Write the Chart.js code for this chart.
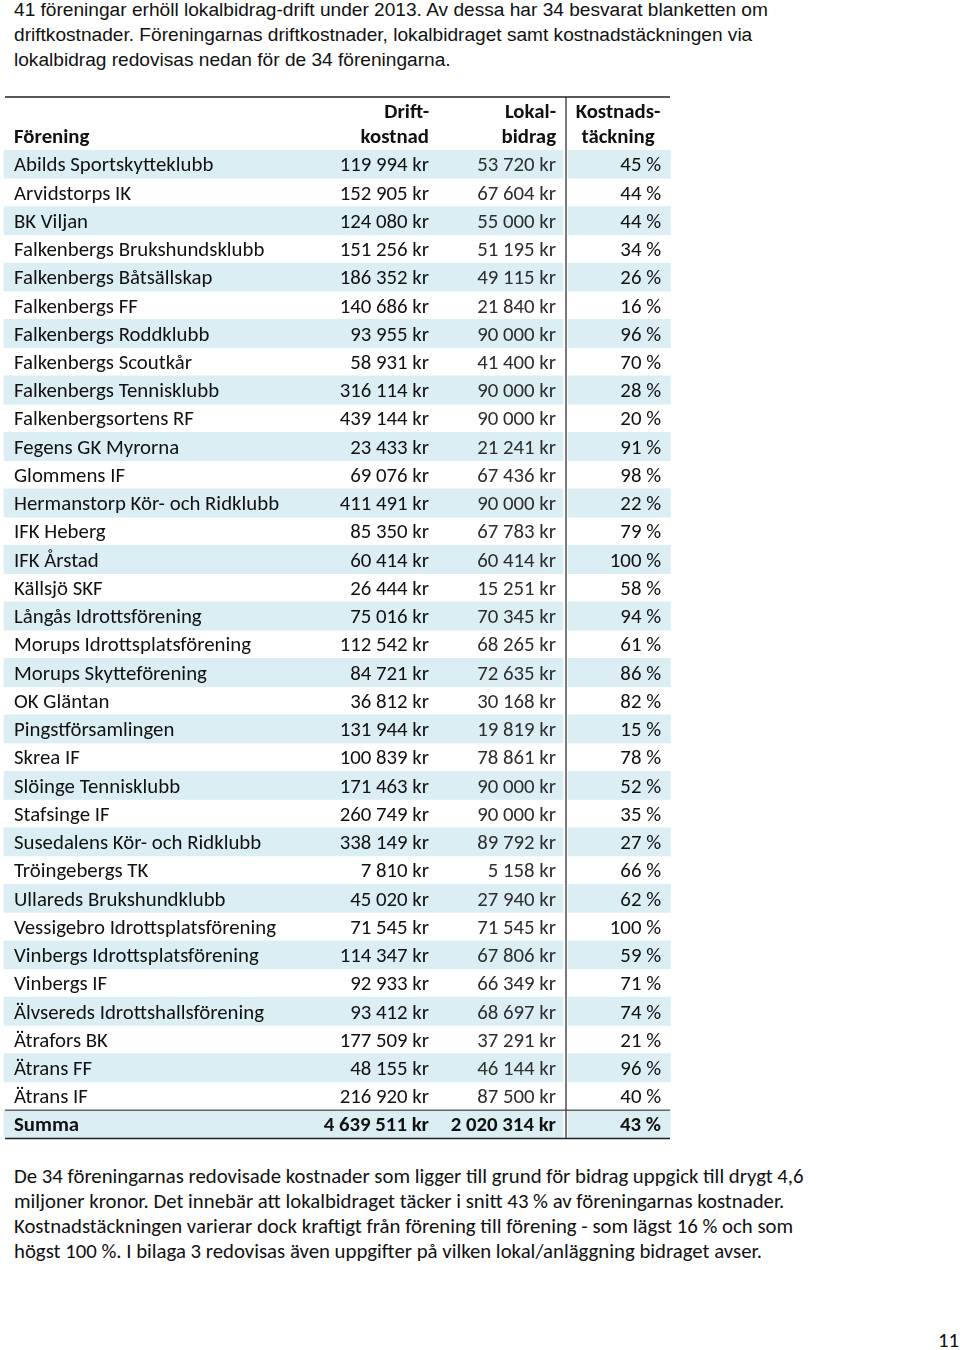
<!DOCTYPE html>
<html>
<head>
<meta charset="utf-8">
<script src="https://cdn.jsdelivr.net/npm/chart.js@4/dist/chart.umd.min.js"></script>
<style>
  html, body { margin: 0; padding: 0; background: #ffffff; }
  body { width: 960px; height: 1350px; position: relative; overflow: hidden; }
  .para { position: absolute; left: 14px; line-height: 25px; color: #111; white-space: nowrap; }
  #top { top: -3px; font-family: "Liberation Sans", Arial, sans-serif; font-size: 18.5px; }
  #bottom { top: 1164px; font-family: Carlito, Lato, sans-serif; font-size: 19px; }
  #pagenum { position: absolute; top: 1328px; right: 1px; line-height: 25px; font-family: Carlito, Lato, sans-serif; font-size: 19px; color: #111; }
  #wrap { position: absolute; left: 0; top: 90px; width: 680px; height: 1060px; }
</style>
</head>
<body>
<div class="para" id="top">
  <div>41 föreningar erhöll lokalbidrag-drift under 2013. Av dessa har 34 besvarat blanketten om</div>
  <div>driftkostnader. Föreningarnas driftkostnader, lokalbidraget samt kostnadstäckningen via</div>
  <div>lokalbidrag redovisas nedan för de 34 föreningarna.</div>
</div>
<div id="wrap"><canvas id="c" width="680" height="1060"></canvas></div>
<div class="para" id="bottom">
  <div>De 34 föreningarnas redovisade kostnader som ligger till grund för bidrag uppgick till drygt 4,6</div>
  <div>miljoner kronor. Det innebär att lokalbidraget täcker i snitt 43 % av föreningarnas kostnader.</div>
  <div>Kostnadstäckningen varierar dock kraftigt från förening till förening - som lägst 16 % och som</div>
  <div>högst 100 %. I bilaga 3 redovisas även uppgifter på vilken lokal/anläggning bidraget avser.</div>
</div>
<div id="pagenum">11</div>
<script>
// ---- Data ----
const foreningar = [
  "Abilds Sportskytteklubb", "Arvidstorps IK", "BK Viljan", "Falkenbergs Brukshundsklubb",
  "Falkenbergs Båtsällskap", "Falkenbergs FF", "Falkenbergs Roddklubb", "Falkenbergs Scoutkår",
  "Falkenbergs Tennisklubb", "Falkenbergsortens RF", "Fegens GK Myrorna", "Glommens IF",
  "Hermanstorp Kör- och Ridklubb", "IFK Heberg", "IFK Årstad", "Källsjö SKF",
  "Långås Idrottsförening", "Morups Idrottsplatsförening", "Morups Skytteförening", "OK Gläntan",
  "Pingstförsamlingen", "Skrea IF", "Slöinge Tennisklubb", "Stafsinge IF",
  "Susedalens Kör- och Ridklubb", "Tröingebergs TK", "Ullareds Brukshundklubb", "Vessigebro Idrottsplatsförening",
  "Vinbergs Idrottsplatsförening", "Vinbergs IF", "Älvsereds Idrottshallsförening", "Ätrafors BK",
  "Ätrans FF", "Ätrans IF"
];
const driftkostnad = [
  119994, 152905, 124080, 151256, 186352, 140686, 93955, 58931,
  316114, 439144, 23433, 69076, 411491, 85350, 60414, 26444,
  75016, 112542, 84721, 36812, 131944, 100839, 171463, 260749,
  338149, 7810, 45020, 71545, 114347, 92933, 93412, 177509,
  48155, 216920
];
const lokalbidrag = [
  53720, 67604, 55000, 51195, 49115, 21840, 90000, 41400,
  90000, 90000, 21241, 67436, 90000, 67783, 60414, 15251,
  70345, 68265, 72635, 30168, 19819, 78861, 90000, 90000,
  89792, 5158, 27940, 71545, 67806, 66349, 68697, 37291,
  46144, 87500
];
const kostnadstackning = [
  45, 44, 44, 34, 26, 16, 96, 70,
  28, 20, 91, 98, 22, 79, 100, 58,
  94, 61, 86, 82, 15, 78, 52, 35,
  27, 66, 62, 100, 59, 71, 74, 21,
  96, 40
];
const summaLabel = "Summa";
const summaDrift = 4639511;
const summaLokal = 2020314;
const summaTackning = 43;
const headers = {
  forening: ["Förening"],
  drift: ["Drift-", "kostnad"],
  lokal: ["Lokal-", "bidrag"],
  tackning: ["Kostnads-", "täckning"]
};

// ---- Helpers ----
function kr(n) { return String(n).replace(/\B(?=(\d{3})+(?!\d))/g, " ") + " kr"; }
function pct(n) { return n + " %"; }

const FONT_FAMILY = 'Carlito, Lato, sans-serif';
const mctx = document.createElement('canvas').getContext('2d');
mctx.font = '20px ' + FONT_FAMILY;
const baseW = mctx.measureText("Abilds Sportskytteklubb").width;
const FS = Math.round(20 * 199 / baseW * 10) / 10;

// fit paragraphs
function fitPara(id, targetW) {
  const el = document.getElementById(id);
  const first = el.querySelector('div');
  const cs = getComputedStyle(el);
  mctx.font = cs.fontSize + ' ' + cs.fontFamily;
  const w = mctx.measureText(first.textContent).width;
  const size = parseFloat(cs.fontSize) * targetW / w;
  el.style.fontSize = size.toFixed(2) + 'px';
}
fitPara('top', 755);
fitPara('bottom', 790);
document.getElementById('pagenum').style.fontSize = FS + 'px';

// ---- Chart ----
const labels = foreningar.concat([summaLabel]);
const nRows = labels.length;
const shadeLeft = labels.map((_, i) => (i % 2 === 0 ? [4, 563] : null));
const shadeRight = labels.map((_, i) => (i % 2 === 0 ? [568, 670.5] : null));

const COL = { name: 14, drift: 429, lokal: 556, tackCenter: 618, tack: 661, lineL: 5, lineR: 670, vline: 566 };
const SHADE = '#dbeef4';

const tablePlugin = {
  id: 'tableText',
  afterDatasetsDraw(chart) {
    const ctx = chart.ctx;
    const x = chart.scales.x, y = chart.scales.y;
    const rowH = y.getPixelForValue(1) - y.getPixelForValue(0);
    const top = y.getPixelForValue(0) - rowH / 2;
    const bottom = y.getPixelForValue(nRows - 1) + rowH / 2;
    const X = v => x.getPixelForValue(v);
    ctx.save();
    // lines
    ctx.strokeStyle = '#222';
    ctx.lineWidth = 1.5;
    const headTop = top - 53;
    ctx.beginPath(); ctx.moveTo(X(COL.lineL), headTop); ctx.lineTo(X(COL.lineR), headTop); ctx.stroke();
    ctx.beginPath(); ctx.moveTo(X(COL.lineL), bottom); ctx.lineTo(X(COL.lineR), bottom); ctx.stroke();
    ctx.lineWidth = 1;
    const sumTop = y.getPixelForValue(nRows - 1) - rowH / 2;
    ctx.beginPath(); ctx.moveTo(X(COL.lineL), sumTop); ctx.lineTo(X(COL.lineR), sumTop); ctx.stroke();
    ctx.lineWidth = 1.2;
    ctx.beginPath(); ctx.moveTo(X(COL.vline), headTop); ctx.lineTo(X(COL.vline), bottom); ctx.stroke();

    // headers
    ctx.textBaseline = 'middle';
    ctx.fillStyle = '#111';
    ctx.font = 'bold ' + FS + 'px ' + FONT_FAMILY;
    const h2 = top - 12, h1 = top - 37;
    ctx.textAlign = 'left';
    ctx.fillText(headers.forening[0], X(COL.name), h2);
    ctx.textAlign = 'right';
    ctx.fillText(headers.drift[0], X(COL.drift), h1);
    ctx.fillText(headers.drift[1], X(COL.drift), h2);
    ctx.fillText(headers.lokal[0], X(COL.lokal), h1);
    ctx.fillText(headers.lokal[1], X(COL.lokal), h2);
    ctx.textAlign = 'center';
    ctx.fillText(headers.tackning[0], X(COL.tackCenter), h1);
    ctx.fillText(headers.tackning[1], X(COL.tackCenter), h2);

    // body rows
    ctx.font = FS + 'px ' + FONT_FAMILY;
    for (let i = 0; i < foreningar.length; i++) {
      const cy = y.getPixelForValue(i) + 2;
      ctx.fillStyle = '#111';
      ctx.textAlign = 'left';
      ctx.fillText(foreningar[i], X(COL.name), cy);
      ctx.textAlign = 'right';
      ctx.fillText(kr(driftkostnad[i]), X(COL.drift), cy);
      ctx.fillStyle = '#2e2e2e';
      ctx.fillText(kr(lokalbidrag[i]), X(COL.lokal), cy);
      ctx.fillStyle = '#111';
      ctx.fillText(pct(kostnadstackning[i]), X(COL.tack), cy);
    }
    // summa
    const sy = y.getPixelForValue(nRows - 1) + 2;
    ctx.font = 'bold ' + FS + 'px ' + FONT_FAMILY;
    ctx.fillStyle = '#111';
    ctx.textAlign = 'left';
    ctx.fillText(summaLabel, X(COL.name), sy);
    ctx.textAlign = 'right';
    ctx.fillText(kr(summaDrift), X(COL.drift), sy);
    ctx.fillText(kr(summaLokal), X(COL.lokal), sy);
    ctx.fillText(pct(summaTackning), X(COL.tack), sy);
    ctx.restore();
  }
};

new Chart(document.getElementById('c'), {
  type: 'bar',
  data: {
    labels: labels,
    datasets: [
      { data: shadeLeft, backgroundColor: SHADE, borderWidth: 0, grouped: false, barPercentage: 1, categoryPercentage: 1 },
      { data: shadeRight, backgroundColor: SHADE, borderWidth: 0, grouped: false, barPercentage: 1, categoryPercentage: 1 }
    ]
  },
  options: {
    indexAxis: 'y',
    responsive: false,
    devicePixelRatio: 1,
    animation: false,
    events: [],
    layout: { padding: { top: 60, bottom: 11.6, left: 0, right: 0 } },
    scales: {
      x: { type: 'linear', min: 0, max: 680, display: false },
      y: { type: 'category', display: false, offset: true }
    },
    plugins: { legend: { display: false }, tooltip: { enabled: false } }
  },
  plugins: [tablePlugin]
});
</script>
</body>
</html>
